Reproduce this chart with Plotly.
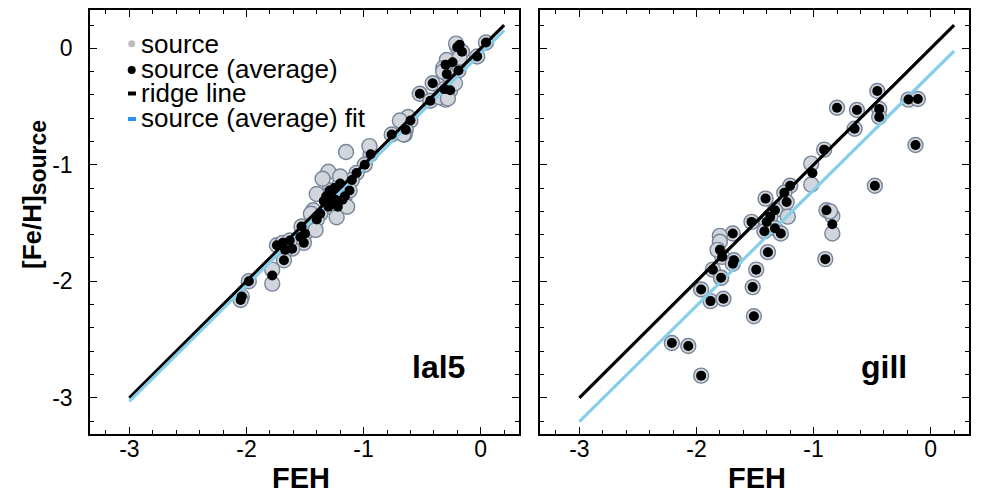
import plotly.graph_objects as go

# ---- data: lal5 panel ----
lal5_avg_feh = [0.045, -0.20, -0.16, -0.03, -0.24, -0.19, -0.29, -0.41, -0.31, -0.26,
                -0.52, -0.43, -0.60, -0.64, -0.76, -0.94, -0.99, -1.06, -1.10, -1.20,
                -1.29, -1.32, -1.24, -1.16, -1.12, -1.22, -1.30, -1.37, -1.40, -1.53,
                -1.54, -1.50, -1.51, -1.61, -1.67, -1.74, -1.69, -1.63, -1.68, -1.78,
                -1.98, -2.04, -2.05, -1.25, -1.18, -1.27, -1.34, -0.30, -0.18]
lal5_avg_src = [0.05, 0.01, -0.03, -0.07, -0.12, -0.19, -0.22, -0.30, -0.35, -0.36,
                -0.39, -0.45, -0.62, -0.70, -0.74, -0.91, -1.00, -1.07, -1.13, -1.16,
                -1.22, -1.27, -1.30, -1.27, -1.22, -1.36, -1.36, -1.42, -1.47, -1.53,
                -1.62, -1.59, -1.67, -1.72, -1.73, -1.69, -1.67, -1.65, -1.82, -1.95,
                -2.00, -2.13, -2.16, -1.20, -1.30, -1.33, -1.31, -0.14, 0.03]

lal5_src_feh = [0.045, -0.20, -0.16, -0.03, -0.24, -0.19, -0.29, -0.41, -0.31, -0.26,
                -0.52, -0.43, -0.60, -0.64, -0.76, -0.94, -0.99, -1.06, -1.10, -1.20,
                -1.29, -1.32, -1.24, -1.16, -1.12, -1.22, -1.30, -1.37, -1.40, -1.53,
                -1.54, -1.50, -1.51, -1.61, -1.67, -1.74, -1.69, -1.63, -1.68, -1.98,
                -2.04, -2.05, -0.29, -0.22, -0.30, -0.62, -0.69, -0.65, -1.15, -0.95,
                -1.30, -1.43, -1.14, -1.41, -1.78, -1.78, -0.32, -0.35, -0.28, -0.66,
                -0.32, -1.35, -1.40, -1.45, -1.23, -0.21, -1.20, -0.18]
lal5_src_src = [0.05, 0.01, -0.03, -0.07, -0.12, -0.19, -0.22, -0.30, -0.35, -0.36,
                -0.39, -0.45, -0.62, -0.70, -0.74, -0.91, -1.00, -1.07, -1.13, -1.16,
                -1.22, -1.27, -1.30, -1.27, -1.22, -1.36, -1.36, -1.42, -1.47, -1.53,
                -1.62, -1.59, -1.67, -1.72, -1.73, -1.69, -1.67, -1.65, -1.82, -2.00,
                -2.13, -2.16, -0.10, -0.30, -0.44, -0.59, -0.62, -0.74, -0.89, -0.84,
                -1.06, -1.39, -1.36, -1.56, -1.90, -2.02, -0.17, -0.42, -0.43, -0.74,
                -0.20, -1.12, -1.25, -1.42, -1.45, 0.04, -1.10, -0.08]

# ---- data: gill panel ----
gill_avg_feh = [-0.456, -0.80, -0.63, -0.44, -0.44, -0.19, -0.11, -0.65, -0.13, -0.91,
                -1.01, -0.477, -1.20, -1.25, -1.41, -1.23, -1.33, -0.89, -0.84, -1.37,
                -1.40, -1.53, -1.42, -1.33, -1.28, -1.69, -1.80, -1.78, -1.68, -1.69,
                -1.39, -0.90, -1.86, -1.49, -1.79, -1.52, -1.96, -1.88, -1.77, -1.51,
                -2.21, -2.07, -1.96]
gill_avg_src = [-0.367, -0.51, -0.53, -0.52, -0.59, -0.44, -0.435, -0.69, -0.83, -0.87,
                -1.07, -1.18, -1.18, -1.24, -1.29, -1.32, -1.39, -1.39, -1.51, -1.445,
                -1.49, -1.49, -1.57, -1.545, -1.59, -1.59, -1.73, -1.79, -1.82, -1.85,
                -1.75, -1.81, -1.90, -1.90, -1.97, -2.05, -2.07, -2.17, -2.15, -2.30,
                -2.53, -2.555, -2.81]

gill_src_feh = [-0.456, -0.80, -0.63, -0.44, -0.44, -0.19, -0.11, -0.65, -0.13, -0.91,
                -0.477, -1.20, -1.25, -1.41, -1.23, -1.33, -0.89, -1.37, -1.40, -1.53,
                -1.42, -1.33, -1.28, -1.69, -1.78, -1.68, -1.69, -1.39, -0.90, -1.86,
                -1.49, -1.79, -1.52, -1.96, -1.88, -1.77, -1.51, -2.21, -2.07, -1.96,
                -1.02, -1.02, -0.84, -0.84, -1.22, -1.80, -1.80, -0.86, -1.82, -1.79]
gill_src_src = [-0.367, -0.51, -0.53, -0.52, -0.59, -0.44, -0.435, -0.69, -0.83, -0.87,
                -1.18, -1.18, -1.24, -1.29, -1.32, -1.39, -1.39, -1.445, -1.49, -1.49,
                -1.57, -1.545, -1.59, -1.59, -1.79, -1.82, -1.85, -1.75, -1.81, -1.90,
                -1.90, -1.97, -2.05, -2.07, -2.17, -2.15, -2.30, -2.53, -2.555, -2.81,
                -0.99, -1.17, -1.44, -1.59, -1.445, -1.61, -1.66, -1.40, -1.73, -1.97]

# ---- lines ----
ridge_feh = [-3.0, 0.2]
ridge_src = [-3.0, 0.2]
lal5_fit_feh = [-3.0, 0.2]
lal5_fit_src = [-3.03, 0.155]
gill_fit_feh = [-3.0, 0.2]
gill_fit_src = [-3.205, -0.023]

tick_vals = [-3, -2, -1, 0]
tick_text = ["-3", "-2", "-1", "0"]
legend_labels = ["source", "source (average)", "ridge line", "source (average) fit"]
panel_names = ["lal5", "gill"]

FONT = "Liberation Sans, Arial, sans-serif"
GREY_FILL = "#d2d6dc"
GREY_EDGE = "#76869a"
FIT_BLUE = "#87ceeb"

# page body has an 8px margin; size the figure to what is visible
OFF = 8
W, H = 1000 - OFF, 500 - OFF


def px(v):
    return (v - OFF) / W


def py_(v):
    return 1 - (v - OFF) / H


fig = go.Figure()

panels = [
    ("x", "y", lal5_src_feh, lal5_src_src, lal5_avg_feh, lal5_avg_src, lal5_fit_feh, lal5_fit_src),
    ("x2", "y2", gill_src_feh, gill_src_src, gill_avg_feh, gill_avg_src, gill_fit_feh, gill_fit_src),
]
for xa, ya, sx, sy, ax_, ay, fx, fy in panels:
    fig.add_trace(go.Scatter(x=sx, y=sy, mode="markers", xaxis=xa, yaxis=ya, showlegend=False,
                             marker=dict(size=15, color=GREY_FILL, line=dict(color=GREY_EDGE, width=1.4))))
    fig.add_trace(go.Scatter(x=ridge_feh, y=ridge_src, mode="lines", xaxis=xa, yaxis=ya, showlegend=False,
                             line=dict(color="black", width=3.2)))
    fig.add_trace(go.Scatter(x=fx, y=fy, mode="lines", xaxis=xa, yaxis=ya, showlegend=False,
                             line=dict(color=FIT_BLUE, width=3.2)))
    fig.add_trace(go.Scatter(x=ax_, y=ay, mode="markers", xaxis=xa, yaxis=ya, showlegend=False,
                             marker=dict(size=10, color="black")))

axis_common = dict(
    tickmode="array", tickvals=tick_vals, ticktext=tick_text,
    ticks="inside", ticklen=7, tickwidth=1.2, tickcolor="black",
    minor=dict(dtick=0.2, ticks="inside", ticklen=4.5, tickwidth=1.1, tickcolor="black"),
    showline=True, linecolor="black", linewidth=1.5, mirror="ticks",
    showgrid=False, zeroline=False,
    tickfont=dict(family=FONT, size=23, color="black"),
)
xr = [-3.336, 0.327]
yr = [-3.311, 0.329]
ydom = [py_(434), py_(10)]
fig.update_layout(
    xaxis=dict(axis_common, domain=[px(90), px(519)], range=xr, anchor="y", ticklabelstandoff=-6),
    yaxis=dict(axis_common, domain=ydom, range=yr, anchor="x", ticklabelstandoff=11),
    xaxis2=dict(axis_common, domain=[px(540), px(969)], range=xr, anchor="y2", ticklabelstandoff=-6),
    yaxis2=dict(axis_common, domain=ydom, range=yr, anchor="x2", showticklabels=False),
    width=W, height=H,
    margin=dict(l=0, r=0, t=0, b=0),
    plot_bgcolor="white", paper_bgcolor="white",
    font=dict(family=FONT, color="black"),
)

# axis titles and panel labels
annos = [
    dict(text="<b>FEH</b>", x=px(301), y=py_(478), font=dict(size=29)),
    dict(text="<b>FEH</b>", x=px(757), y=py_(478), font=dict(size=29)),
    dict(text="<b>[Fe/H]<sub><span style='font-size:23px'>source</span></sub></b>",
         x=px(34), y=py_(195), textangle=-90, font=dict(size=26)),
    dict(text="<b>%s</b>" % panel_names[0], x=px(438), y=py_(367), font=dict(size=32)),
    dict(text="<b>%s</b>" % panel_names[1], x=px(884), y=py_(367), font=dict(size=32)),
]
for a in annos:
    fig.add_annotation(xref="paper", yref="paper", showarrow=False,
                       xanchor="center", yanchor="middle", **a)

# legend drawn in the upper-left of the first panel
legend_rows_y = [44, 69, 93, 118]
for label, yy in zip(legend_labels, legend_rows_y):
    fig.add_annotation(text=label, xref="paper", yref="paper", x=px(139), y=py_(yy),
                       xanchor="left", yanchor="middle", showarrow=False,
                       font=dict(family=FONT, size=26, color="black"))

glyphs = [
    dict(type="circle", x0=px(128.2), x1=px(135.2), y0=py_(47.3), y1=py_(40.3), fillcolor="#bcbcbc"),
    dict(type="circle", x0=px(127.7), x1=px(135.7), y0=py_(74), y1=py_(66), fillcolor="black"),
    dict(type="rect", x0=px(128), x1=px(136), y0=py_(95.5), y1=py_(91.5), fillcolor="black"),
    dict(type="rect", x0=px(128), x1=px(136), y0=py_(121), y1=py_(117), fillcolor="#2b93ff"),
]
for g in glyphs:
    fig.add_shape(xref="paper", yref="paper", line=dict(width=0), layer="above", **g)

fig.write_html("out.html")
